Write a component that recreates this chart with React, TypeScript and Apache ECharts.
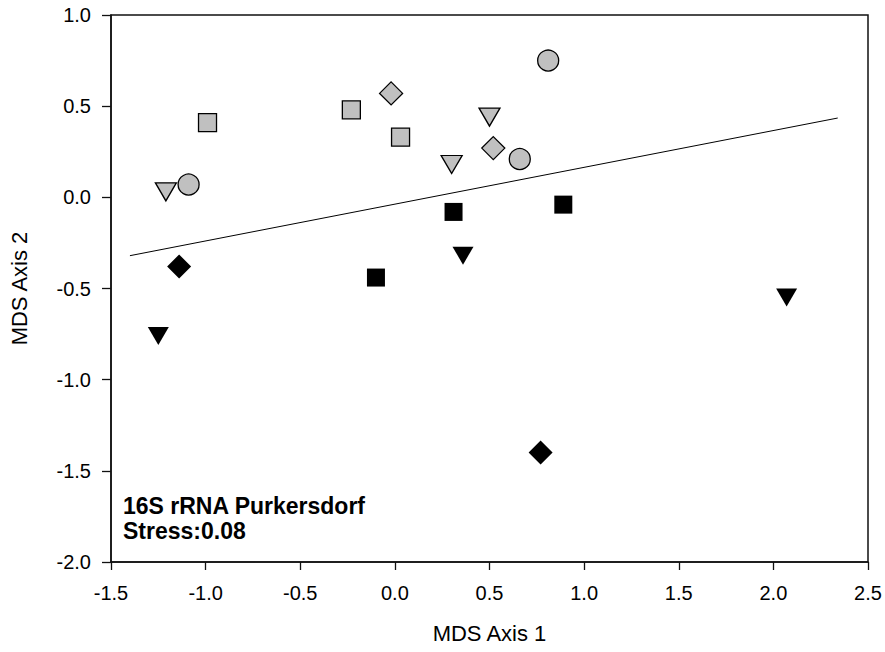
import React, { useEffect, useRef } from "react";
import * as echarts from "echarts";

// Gray (upper group) samples
const grayCircleX = [-1.09, 0.81, 0.66];
const grayCircleY = [0.07, 0.75, 0.21];
const graySquareX = [-0.99, -0.23, 0.03];
const graySquareY = [0.41, 0.48, 0.33];
const grayDiamondX = [-0.02, 0.52];
const grayDiamondY = [0.57, 0.27];
const grayTriangleX = [-1.21, 0.3, 0.5];
const grayTriangleY = [0.03, 0.18, 0.44];

// Black (lower group) samples
const blackSquareX = [-0.1, 0.31, 0.89];
const blackSquareY = [-0.44, -0.08, -0.04];
const blackDiamondX = [-1.14, 0.77];
const blackDiamondY = [-0.38, -1.4];
const blackTriangleX = [-1.25, 0.36, 2.07];
const blackTriangleY = [-0.76, -0.32, -0.55];

// Separating line
const lineX = [-1.4, 2.34];
const lineY = [-0.32, 0.435];

const annotationLines = ["16S rRNA Purkersdorf", "Stress:0.08"];
const xAxisTitle = "MDS Axis 1";
const yAxisTitle = "MDS Axis 2";

const zip = (xs: number[], ys: number[]) => xs.map((x, i) => [x, ys[i]]);

const FONT = "'Liberation Sans', Arial, Helvetica, sans-serif";
const GRAY = "#c0c0c0";

export default function App() {
  const ref = useRef<HTMLDivElement>(null);

  useEffect(() => {
    if (!ref.current) return;
    const chart = echarts.init(ref.current, null, { renderer: "svg" });

    const grayStyle = { color: GRAY, borderColor: "#000", borderWidth: 1.3, opacity: 1 };
    const blackStyle = { color: "#000", borderColor: "#000", borderWidth: 0, opacity: 1 };

    const scatter = (
      name: string,
      data: number[][],
      symbol: string,
      size: number | number[],
      style: any,
      rotate = 0
    ) => ({
      name,
      type: "scatter",
      data,
      symbol,
      symbolSize: size,
      symbolRotate: rotate,
      itemStyle: style,
      z: 3,
    });

    chart.setOption({
      animation: false,
      backgroundColor: "#fff",
      textStyle: { fontFamily: FONT },
      grid: {
        left: 109,
        right: 17,
        top: 15,
        bottom: 90,
        show: true,
        borderColor: "#111",
        borderWidth: 1.5,
        backgroundColor: "transparent",
      },
      xAxis: {
        type: "value",
        min: -1.5,
        max: 2.5,
        interval: 0.5,
        name: xAxisTitle,
        nameLocation: "middle",
        nameGap: 60,
        nameTextStyle: { fontSize: 22, color: "#000", fontFamily: FONT },
        axisLine: { show: true, onZero: false, lineStyle: { color: "#111", width: 1.5 } },
        axisTick: { show: true, inside: false, length: 8, lineStyle: { color: "#111", width: 1.3 } },
        axisLabel: {
          margin: 21,
          fontSize: 20,
          color: "#000",
          fontFamily: FONT,
          formatter: (v: number) => v.toFixed(1),
        },
        splitLine: { show: false },
      },
      yAxis: {
        type: "value",
        min: -2,
        max: 1,
        interval: 0.5,
        name: yAxisTitle,
        nameLocation: "middle",
        nameGap: 81,
        nameTextStyle: { fontSize: 22, color: "#000", fontFamily: FONT },
        axisLine: { show: true, onZero: false, lineStyle: { color: "#111", width: 1.5 } },
        axisTick: { show: true, inside: false, length: 9, lineStyle: { color: "#111", width: 1.3 } },
        axisLabel: {
          margin: 20,
          fontSize: 20,
          color: "#000",
          fontFamily: FONT,
          formatter: (v: number) => v.toFixed(1),
        },
        splitLine: { show: false },
      },
      series: [
        {
          name: "line",
          type: "line",
          data: zip(lineX, lineY),
          symbol: "none",
          lineStyle: { color: "#000", width: 1 },
          z: 2,
        },
        scatter("grayCircle", zip(grayCircleX, grayCircleY), "circle", 21, grayStyle),
        scatter("graySquare", zip(graySquareX, graySquareY), "rect", 18, grayStyle),
        scatter("grayDiamond", zip(grayDiamondX, grayDiamondY), "diamond", 23, grayStyle),
        scatter("grayTriangle", zip(grayTriangleX, grayTriangleY), "triangle", [21, 18], grayStyle, 180),
        scatter("blackSquare", zip(blackSquareX, blackSquareY), "rect", 18, blackStyle),
        scatter("blackDiamond", zip(blackDiamondX, blackDiamondY), "diamond", 24, blackStyle),
        scatter("blackTriangle", zip(blackTriangleX, blackTriangleY), "triangle", [21, 18], blackStyle, 180),
      ],
      graphic: [
        {
          type: "text",
          left: 123,
          top: 493,
          style: {
            text: annotationLines.join("\n"),
            font: `bold 23px ${FONT}`,
            fill: "#000",
            lineHeight: 25,
          },
          z: 10,
        },
      ],
    });

    return () => chart.dispose();
  }, []);

  return (
    <div
      ref={ref}
      style={{ position: "fixed", left: 0, top: 0, width: 885, height: 652, background: "#fff" }}
    />
  );
}
